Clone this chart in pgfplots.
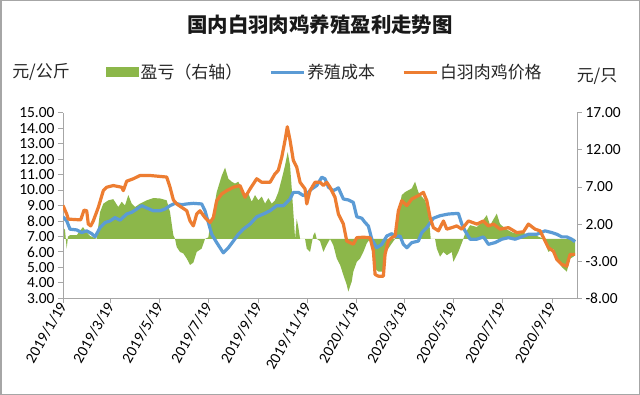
\documentclass[border=0pt]{standalone}
\usepackage{pgfplots}
\pgfplotsset{compat=1.18}
\usepackage{fontspec}
\setmainfont{Carlito}
\newfontfamily\cjk{Noto Sans CJK SC}
\definecolor{cgreen}{HTML}{8CB74A}
\definecolor{cblue}{HTML}{5B9BD5}
\definecolor{corange}{HTML}{ED7D31}
\definecolor{axgray}{HTML}{A6A6A6}
\begin{document}
\begin{tikzpicture}
\useasboundingbox (0,0) rectangle (640bp,395bp);
\fill[white] (0,0) rectangle (640bp,395bp);
\pgfplotsset{
  base/.style={at={(63bp,96.7bp)}, anchor=south west, scale only axis,
    width=514bp, height=185.6bp, xmin=0, xmax=640,
    axis line style={axgray, line width=0.8bp},
    tick style={axgray, line width=0.8bp},
    major tick length=5bp, tick align=outside,
    /pgf/number format/assume math mode=true,
    ticklabel style={font=\fontsize{15.5}{15.5}\selectfont, text=black},
    y tick label style={/pgf/number format/fixed, /pgf/number format/fixed zerofill, /pgf/number format/precision=2},
  }
}
\begin{axis}[base, axis y line*=right, axis x line=none, ymin=-8, ymax=17, ytick={-8,-3,2,7,12,17}]
\addplot[fill=cgreen, draw=none] table {
0 1.6
2.5 1.2
4.6 -1.3
6.2 0.3
8.7 0.5
17.1 0.5
24.9 1.6
28.6 1.0
33.6 0.4
42.0 0.0
46.1 3.6
50.2 4.75
56.4 5.2
62.6 5.35
68.9 4.3
73.1 5.0
77.2 4.5
81.3 5.9
85.6 4.75
89.7 4.3
95.9 4.75
104.2 5.2
112.5 5.5
120.8 5.45
129.1 5.2
133.3 3.6
137.4 0.5
139.5 0
141.6 -1.1
145.7 -1.75
149.9 -1.97
154.1 -2.65
158.2 -3.5
162.3 -3.2
166.5 -1.75
172.7 -1.3
176.8 0
181.0 0.2
183.1 1.85
187.2 3.6
191.4 6.3
197.6 8.5
201.8 9.6
205.9 8.1
210.1 7.7
214.2 7.45
218.3 7.7
222.6 6.8
226.7 5.7
230.8 6.1
235.0 5.0
239.1 5.9
243.2 5.2
247.5 5.7
251.6 4.75
255.7 5.5
259.9 4.75
264.0 5.2
268.1 6.3
272.4 8.1
276.5 9.9
279.8 11.7
282.7 9.9
284.8 6.8
286.8 3.6
289.0 0
291.0 2.7
293.0 1.6
295.2 0
301.4 0
303.5 -1.3
307.6 -1.75
311.7 0.5
313.8 0.9
316.0 0
320.1 -0.3
324.2 -1.75
328.4 -0.8
332.5 0
336.6 -0.85
340.9 -2.65
345.0 -3.5
349.1 -4.85
353.3 -6.2
355.3 -7.1
359.5 -5.75
361.5 -4.4
365.8 -3.1
369.9 -2.65
374.0 -1.75
378.2 -0.6
382.3 0
386.5 -1.75
388.6 -4.0
392.7 -4.4
398.9 -4.4
401.0 -1.75
405.1 -1.3
409.4 -0.6
413.5 0
417.6 3.6
421.8 5.9
425.9 6.3
430.0 6.55
434.3 6.8
438.4 7.7
442.5 6.3
446.7 5.7
450.8 5.2
454.9 3.6
457.9 0
463.3 0
465.4 -1.3
469.5 -2.4
473.6 -1.75
477.9 -2.2
484.1 -1.75
486.1 -3.1
492.3 -1.75
498.5 0
500.6 0.7
506.9 1.85
515.3 1.6
521.5 2.3
527.7 3.2
531.8 1.85
540.1 3.4
544.2 2.0
550.5 1.4
558.8 0.9
565.0 0.7
573.3 0.8
581.6 0.45
590.0 0.4
598.2 0
600.3 -0.6
604.4 -1.75
610.6 -1.3
614.9 -2.65
621.1 -3.8
627.3 -4.4
631.4 -2.65
635.5 -2.4
637.6 -2.2
} \closedcycle;
\end{axis}
\begin{axis}[base, axis y line*=left, axis x line*=bottom, ymin=3, ymax=15, ytick={3,4,...,15},
  xtick={0,59,120,181,243,304,365,425,486,547,609},
  xticklabels={2019/1/19,2019/3/19,2019/5/19,2019/7/19,2019/9/19,2019/11/19,2020/1/19,2020/3/19,2020/5/19,2020/7/19,2020/9/19},
  x tick label style={rotate=60, anchor=east, xshift=3bp},
  legend style={at={(0.078,1.219)}, anchor=west, draw=none, fill=none, legend columns=3,
    font=\cjk\fontsize{17}{17}\selectfont, text=black!85,
    /tikz/every even column/.append style={column sep=25bp}},
  legend cell align=left]
\addlegendimage{legend image code/.code={\fill[cgreen] (0bp,-4.5bp) rectangle (32bp,4.5bp);}}
\addlegendentry{盈亏（右轴）}
\addplot[cblue, line width=3.2bp, line join=round, legend image code/.code={\draw[cblue, line width=3bp] (0bp,0bp) -- (33bp,0bp);}] table {
0 8.27
4.6 8.01
8.7 7.47
17.1 7.42
23.3 7.25
29.5 7.36
35.7 7.18
39.9 6.97
46.1 7.57
52.3 7.9
58.5 8.0
64.8 8.22
71.0 8.05
79.3 8.45
85.6 8.56
91.8 8.77
98.0 8.99
104.2 8.84
112.5 8.66
120.8 8.66
127.0 8.77
133.3 8.99
139.5 9.14
147.8 9.05
154.1 9.1
162.3 9.14
172.7 9.1
176.8 8.66
181.0 7.9
185.2 7.14
191.4 6.6
199.6 5.94
205.9 6.27
212.1 6.7
218.3 7.14
224.5 7.47
232.9 7.8
241.2 8.27
249.5 8.45
257.8 8.66
266.1 8.99
274.4 8.99
282.7 9.42
286.8 9.85
293.0 9.85
299.3 9.64
303.5 9.75
309.7 10.07
316.0 10.29
322.2 10.83
326.3 10.72
330.5 10.18
336.7 9.96
342.9 10.14
349.1 9.42
355.3 9.36
361.5 9.2
365.8 8.27
372.0 8.18
376.1 7.9
380.2 7.68
384.5 6.82
390.7 6.27
396.9 6.49
403.2 7.03
409.4 7.18
413.5 6.97
419.7 7.03
423.8 6.49
428.1 6.27
434.3 6.6
442.5 6.7
446.7 7.25
453.0 7.57
461.2 8.18
469.5 8.34
479.9 8.45
492.3 8.49
496.6 7.8
500.6 7.36
506.9 6.82
515.3 6.82
523.5 6.97
529.7 6.49
538.0 6.6
546.4 6.82
554.6 6.92
562.9 6.82
571.3 6.97
579.5 7.14
590.0 7.14
600.3 7.36
608.6 7.25
614.9 7.14
621.1 6.97
627.3 6.97
633.5 6.82
637.6 6.66
};
\addlegendentry{养殖成本}
\addplot[corange, line width=3.2bp, line join=round, legend image code/.code={\draw[corange, line width=3bp] (0bp,0bp) -- (33bp,0bp);}] table {
0 9.0
4.6 8.45
6.6 8.12
22.0 8.07
26.2 8.7
29.5 8.66
31.5 7.8
34.5 7.68
37.7 8.0
44.0 8.88
50.2 9.96
54.4 10.18
62.6 10.29
73.1 10.18
75.1 9.96
79.3 10.57
87.6 10.73
95.9 10.94
108.3 10.94
120.8 10.88
129.1 10.84
133.3 10.18
137.4 9.36
141.6 9.1
147.8 8.88
154.1 8.66
158.2 8.0
162.3 7.68
166.5 8.45
170.6 8.66
176.8 8.22
183.1 7.9
187.2 8.22
191.4 9.31
197.6 9.75
203.9 9.96
212.1 10.18
220.4 10.29
226.7 9.53
232.9 10.07
241.2 10.73
247.5 10.5
257.8 10.5
264.0 11.05
268.1 11.27
272.4 12.13
276.5 13.22
279.3 14.09
282.7 13.22
286.8 11.92
291.0 11.48
295.2 10.5
301.4 10.07
303.5 9.1
307.6 9.96
313.8 10.5
320.1 10.5
324.2 10.29
328.4 10.5
332.5 10.18
338.7 9.53
342.9 8.45
349.1 7.8
353.3 6.7
357.4 6.6
361.5 6.5
365.8 6.92
374.0 6.95
382.3 6.92
386.5 6.05
388.6 4.54
392.7 4.43
398.9 4.43
401.0 5.84
405.1 6.7
409.4 6.92
413.5 7.03
417.6 8.66
421.8 9.31
428.1 8.99
434.3 9.42
442.5 9.64
448.7 9.85
453.0 9.31
457.1 8.22
461.2 7.57
467.5 7.36
473.7 8.0
477.9 7.47
484.1 7.57
490.3 7.68
496.6 7.47
504.8 8.0
515.3 7.8
523.5 8.0
529.7 7.68
536.0 7.8
544.3 7.47
554.6 7.57
565.0 7.25
573.3 7.3
579.5 7.8
587.8 7.47
594.1 7.36
600.3 6.7
604.4 6.27
610.6 6.05
614.9 5.51
621.1 5.19
627.3 5.08
631.4 5.84
637.6 5.84
};
\addlegendentry{白羽肉鸡价格}
\end{axis}
\node[font=\cjk\bfseries\fontsize{20.5}{22}\selectfont, text=black!90] at (320bp,370bp) {国内白羽肉鸡养殖盈利走势图};
\node[font=\cjk\fontsize{17}{17}\selectfont, text=black!85] at (41bp,323bp) {元/公斤};
\node[font=\cjk\fontsize{17}{17}\selectfont, text=black!85] at (597bp,319bp) {元/只};
\draw[gray!70, line width=1.5bp] (0.75bp,0.75bp) rectangle (639.25bp,394.25bp);
\end{tikzpicture}
\end{document}
